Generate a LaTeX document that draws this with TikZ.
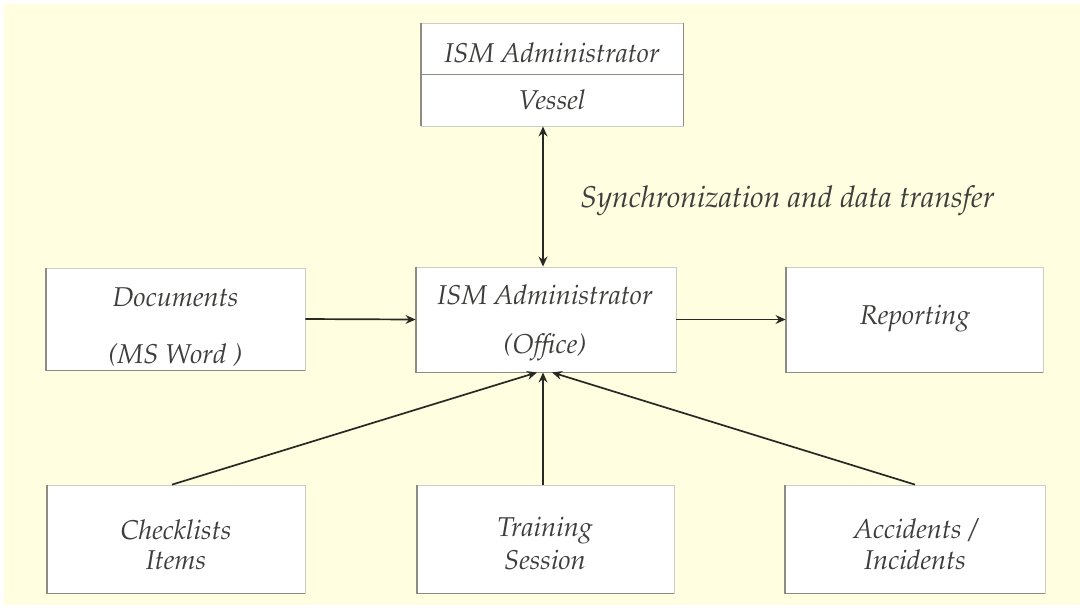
\documentclass[tikz,border=0pt]{standalone}
\usepackage[T1]{fontenc}
\renewcommand{\rmdefault}{ppl}
\usetikzlibrary{arrows.meta}
\definecolor{paper}{RGB}{255,254,224}
\definecolor{ink}{RGB}{62,62,60}
\definecolor{wire}{RGB}{40,40,36}
\definecolor{rim}{RGB}{205,205,200}
\definecolor{shade}{RGB}{140,140,130}
\tikzset{
  box/.style={fill=white, draw=rim, line width=0.4pt, inner sep=0pt},
  edge/.style={draw=shade, line width=0.9pt},
  label/.style={text=ink, font=\fontsize{13.6}{15}\selectfont\itshape, inner sep=0pt},
  tip/.style={Stealth[length=5pt,width=4.4pt]},
  arr/.style={draw=wire, line width=0.85pt, -{Stealth[length=5pt,width=4.4pt]}},
  biarr/.style={draw=wire, line width=0.85pt, {Stealth[length=5pt,width=4.4pt]}-{Stealth[length=5pt,width=4.4pt]}}
}
\begin{document}
\begin{tikzpicture}[x=0.5pt, y=-0.5pt]
  % canvas
  \useasboundingbox (0,0) rectangle (1080,607);
  \fill[white] (0,0) rectangle (1080,607);
  \fill[paper] (4,4) rectangle (1080,605);

  % vessel box (two compartments)
  \node[box, minimum width=131pt, minimum height=51.5pt] (vessel) at (552,74.5) {};
  \draw[edge] (vessel.north west) -- (vessel.south west);
  \draw[edge] (vessel.north east) -- (vessel.south east);
  \draw[edge, line width=0.7pt] (vessel.west) -- (vessel.east);
  \node[label] (vtitle) at (552,53) {ISM Administrator};
  \node[label] (vsub) at (552,100) {Vessel};

  % middle row
  \node[box, minimum width=129.5pt, minimum height=51pt] (docs) at (175.5,319) {};
  \node[box, minimum width=130pt, minimum height=52.5pt] (office) at (546,319.5) {};
  \node[box, minimum width=128.5pt, minimum height=52.5pt] (report) at (914.5,319.5) {};
  \foreach \b in {docs,office,report}
    \draw[edge] (\b.north west) -- (\b.south west) -- (\b.south east);
  \node[label] (docs1) at (175.5,297) {Documents};
  \node[label] (docs2) at (175.5,355) {(MS Word )};
  \node[label] (off1) at (545,295) {ISM Administrator};
  \node[label] (off2) at (545,347) {(Office)};
  \node[label] (rep1) at (915,318) {Reporting};

  % bottom row
  \node[box, minimum width=129pt, minimum height=54pt] (check) at (176,539) {};
  \node[box, minimum width=128.5pt, minimum height=54pt] (train) at (545.5,539) {};
  \node[box, minimum width=130pt, minimum height=54pt] (acc) at (915,539) {};
  \foreach \b in {check,train,acc}
    \draw[edge] (\b.north west) -- (\b.south west) -- (\b.south east);
  \node[label] (chk1) at (176,530) {Checklists};
  \node[label] (chk2) at (176,560) {Items};
  \node[label] (trn1) at (545,530) {Training};
  \node[label] (trn2) at (545,560) {Session};
  \node[label] (acc1) at (915,530) {Accidents /};
  \node[label] (acc2) at (915,560) {Incidents};

  % synchronization link
  \coordinate (axis) at (543,0);
  \draw[biarr] (vessel.south -| axis) -- (office.north -| axis);
  \node[label, font=\fontsize{15}{17}\selectfont\itshape, anchor=west] (sync) at (580,201) {Synchronization and data transfer};

  % data flows
  \draw[arr] (docs.east) -- (office.west);
  \draw[arr] (office.east) -- (report.west);
  \draw[arr] ([xshift=-2pt]check.north) -- ([xshift=-4.5pt]office.south);
  \draw[arr] ([xshift=-1.25pt]train.north) -- ([xshift=-1.5pt]office.south);
  \draw[arr] (acc.north) -- ([xshift=3pt]office.south);
\end{tikzpicture}
\end{document}
